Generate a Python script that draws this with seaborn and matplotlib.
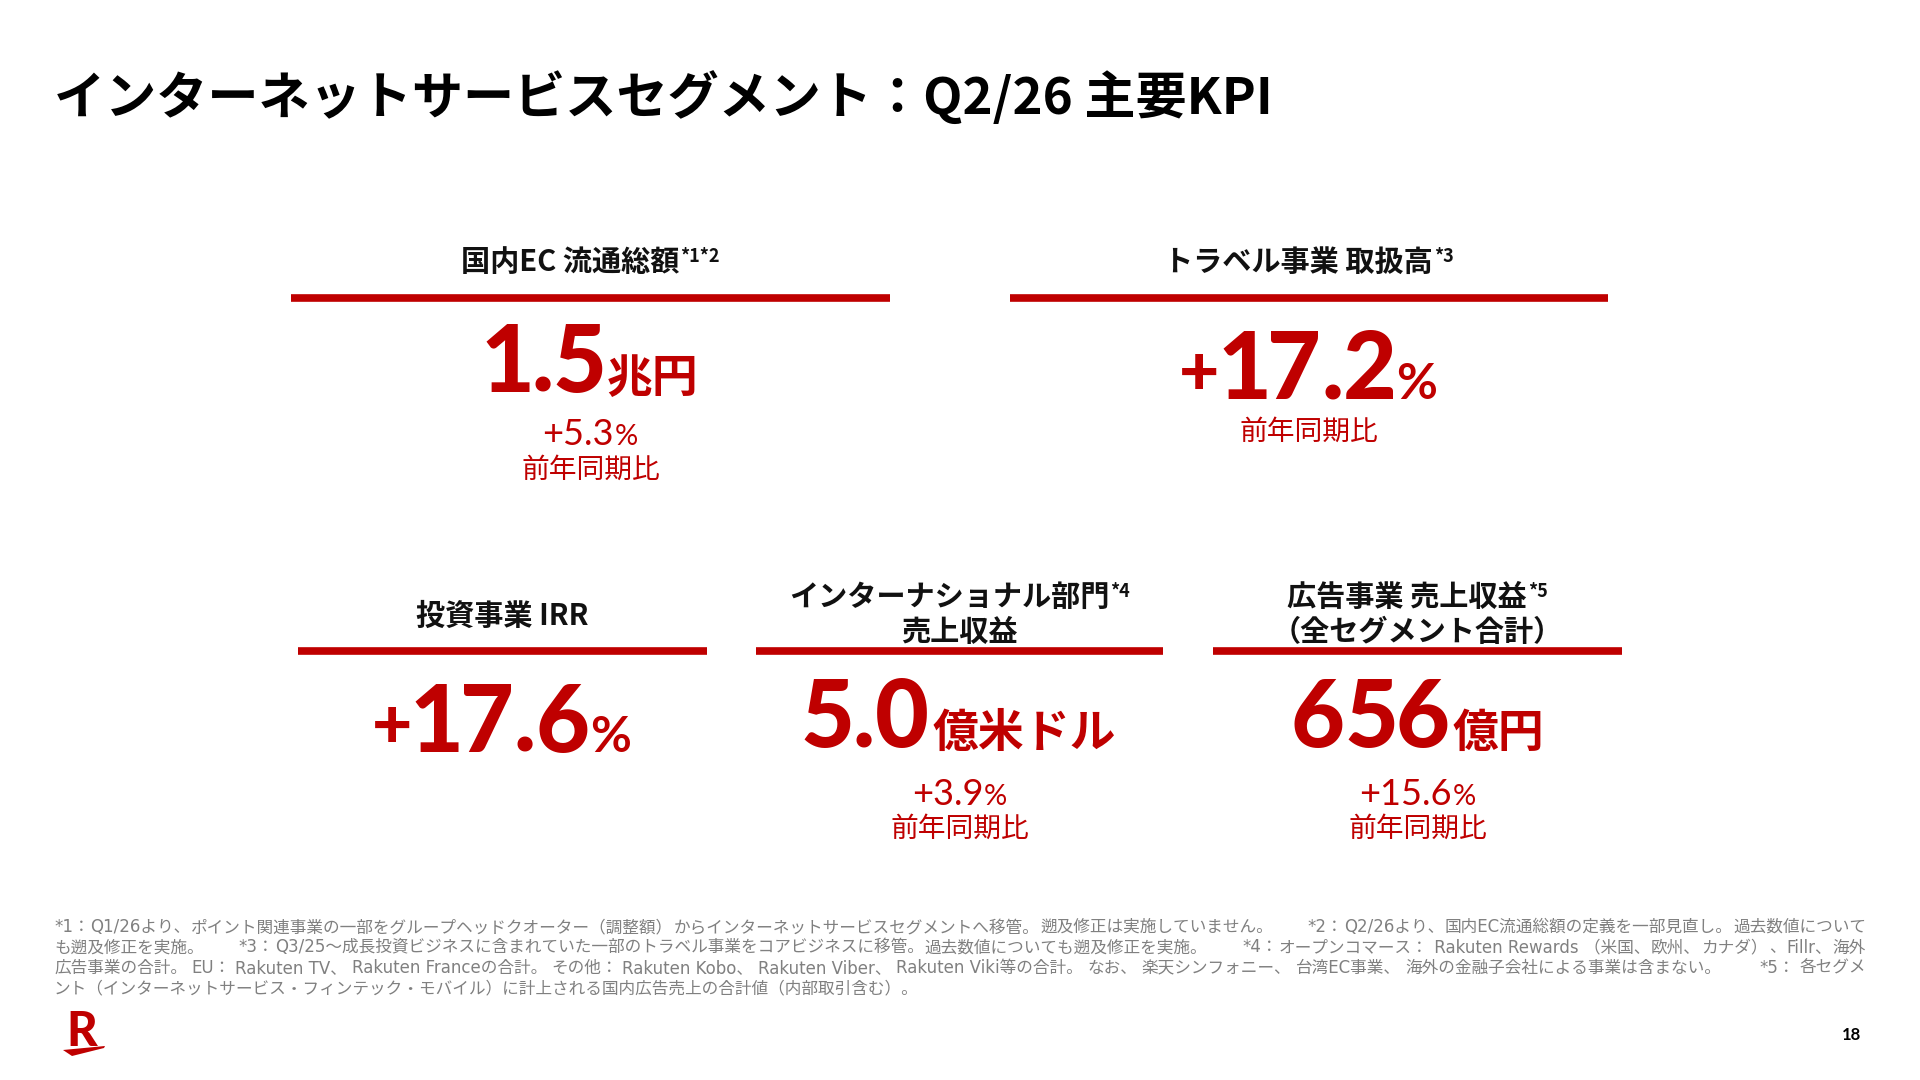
import re
import matplotlib
matplotlib.use("Agg")
import matplotlib.pyplot as plt
from matplotlib.textpath import TextPath
from matplotlib.font_manager import FontProperties
import seaborn as sns

sns.set_theme(style="white")
plt.rcParams['font.family'] = ['Noto Sans CJK JP', 'DejaVu Sans']

# ---- data ----
title = "インターネットサービスセグメント：Q2/26 主要KPI"
kpi_labels = ["国内EC 流通総額", "トラベル事業 取扱高", "投資事業 IRR",
              "インターナショナル部門\n売上収益", "広告事業 売上収益\n（全セグメント合計）"]
kpi_notes = ["*1*2", "*3", "", "*4", "*5"]
kpi_values = ["1.5", "+17.2", "+17.6", "5.0", "656"]
kpi_units = ["兆円", "%", "%", "億米ドル", "億円"]
kpi_yoy = ["+5.3", "", "", "+3.9", "+15.6"]
show_yoy_label = [True, True, False, True, True]
yoy_label = "前年同期比"

footnotes = [
    "*1：Q1/26より、ポイント関連事業の一部をグループヘッドクオーター（調整額）からインターネットサービスセグメントへ移管。遡及修正は実施していません。　 *2：Q2/26より、国内EC流通総額の定義を一部見直し。過去数値について",
    "も遡及修正を実施。　 *3：Q3/25～成長投資ビジネスに含まれていた一部のトラベル事業をコアビジネスに移管。過去数値についても遡及修正を実施。　 *4：オープンコマース： Rakuten Rewards （米国、欧州、カナダ）、Fillr、海外",
    "広告事業の合計。EU：Rakuten TV、Rakuten Franceの合計。その他：Rakuten Kobo、Rakuten Viber、Rakuten Viki等の合計。なお、楽天シンフォニー、台湾EC事業、海外の金融子会社による事業は含まない。　 *5：各セグメ",
    "ント（インターネットサービス・フィンテック・モバイル）に計上される国内広告売上の合計値（内部取引含む）。",
]
page_no = "18"

# ---- layout (pixels, y down) ----
RED = "#BF0000"
bar_x = [(291, 890), (1010, 1608), (298, 707), (756, 1163), (1213, 1622)]
bar_y = [298, 298, 651, 651, 651]
head_base = [271, 271, 625, 606, 606]
val_base = [392, 399, 752, 747, 747]
yoy_base = [445, None, None, 805, 805]
lbl_base = [478, 440, None, 837, 837]

NUM = ['Lato', 'Noto Sans CJK JP']
JP = ['Noto Sans CJK JP', 'DejaVu Sans']
FN = ['DejaVu Sans', 'Noto Sans CJK JP']
PX = 100 / 72

fig = plt.figure(figsize=(19.2, 10.8), dpi=100)
ax = fig.add_axes([0, 0, 1, 1])
ax.set_xlim(0, 1920)
ax.set_ylim(1080, 0)
ax.axis('off')
r = fig.canvas.get_renderer()


def row(parts, y, cx):
    # parts: (text, size, weight, family, color, dy, gap_after); centred layout box
    objs = []
    for s, size, weight, fam, col, dy, gap in parts:
        t = ax.text(0, y + dy, s, fontsize=size, fontweight=weight, family=fam,
                    color=col, ha='left', va='baseline')
        objs.append((t, t.get_window_extent(renderer=r).width, gap))
    total = sum(w + g for _, w, g in objs) - objs[-1][2]
    x = cx - total / 2
    for t, w, g in objs:
        t.set_x(x)
        x += w + g


def ink_row(parts, y, cx):
    # like row, but the gaps are measured between the glyph outlines
    items = []
    for s, size, weight, fam, col, dy, gap in parts:
        ext = TextPath((0, 0), s, size=size * PX,
                       prop=FontProperties(family=fam, weight=weight)).get_extents()
        items.append((s, size, weight, fam, col, dy, gap, ext.x0, ext.width))
    total = sum(it[8] + it[6] for it in items) - items[-1][6]
    left = cx - total / 2
    for s, size, weight, fam, col, dy, gap, x0, w in items:
        ax.text(left - x0, y + dy, s, fontsize=size, fontweight=weight, family=fam,
                color=col, ha='left', va='baseline')
        left += w + gap


ax.text(54, 115, title, fontsize=36.8, fontweight='bold', color='black',
        ha='left', va='baseline', family=JP)

for i in range(len(kpi_labels)):
    x0, x1 = bar_x[i]
    cx = (x0 + x1) / 2
    ax.hlines(bar_y[i], x0, x1, color=RED, linewidth=5.5)

    lines = kpi_labels[i].split("\n")
    for k, ln in enumerate(lines):
        parts = [(ln, 21, 'bold', JP, '#111111', 0, 1)]
        if k == 0 and kpi_notes[i]:
            parts.append((kpi_notes[i], 13, 'bold', JP, '#111111', -9, 0))
        row(parts, head_base[i] + 35 * k, cx)

    # big figure, glyph by glyph with tight tracking
    parts = []
    for ch in kpi_values[i]:
        if ch == "+":
            parts.append((ch, 50, 'black', NUM, RED, -4, 6))
        else:
            parts.append((ch, 67, 'black', NUM, RED, 0, 6))
    if kpi_units[i] == "%":
        parts.append((kpi_units[i], 36, 'bold', NUM, RED, 0, 0))
    else:
        parts.append((kpi_units[i], 33, 'bold', JP, RED, 0, 0))
    ink_row(parts, val_base[i], cx)

    if kpi_yoy[i]:
        row([(kpi_yoy[i], 26, 'normal', NUM, RED, 0, 1),
             ("%", 21, 'normal', NUM, RED, 0, 0)], yoy_base[i], cx)
    if show_yoy_label[i]:
        ax.text(cx, lbl_base[i], yoy_label, fontsize=20, color=RED, ha='center',
                va='baseline', family=JP)

# footnotes: justified to the slide width (spread over punctuation), last line ragged
t0 = ax.text(54, 0, footnotes[-1], fontsize=10, family=FN)
w0 = t0.get_window_extent(renderer=r).width
t0.remove()
fn_size = 10 * 867 / w0
fn_left, fn_right = 54, 1866
note_gap = 34
for k, ln in enumerate(footnotes):
    y = 932 + 20.5 * k
    if k == len(footnotes) - 1:
        ax.text(fn_left, y, ln, fontsize=fn_size, color='#808080', family=FN,
                ha='left', va='baseline')
        continue
    pieces = []
    segs = ln.split("　 ")
    for si, seg in enumerate(segs):
        cs = [c for c in re.split(r'(?<=[、。：）])', seg) if c]
        for ci, c in enumerate(cs):
            base = note_gap if (ci == len(cs) - 1 and si < len(segs) - 1) else 0
            t = ax.text(0, y, c, fontsize=fn_size, color='#808080', family=FN,
                        ha='left', va='baseline')
            pieces.append([t, t.get_window_extent(renderer=r).width, base])
    pieces[-1][2] = 0
    used = sum(w + b for _, w, b in pieces)
    extra = (fn_right - fn_left - used) / (len(pieces) - 1)
    x = fn_left
    for t, w, b in pieces:
        t.set_x(x)
        x += w + b + extra

# logo and page number
ax.text(66, 1046, "R", fontsize=34, fontweight='black', color=RED, family=NUM,
        ha='left', va='baseline')
ax.fill([63, 105, 104, 72], [1050, 1046, 1048, 1056], color=RED, lw=0)
ax.text(1851, 1035, page_no, fontsize=12, fontweight='bold', color='black',
        ha='center', va='center', family=NUM)

fig.savefig("out.png", dpi=100, facecolor='white')
